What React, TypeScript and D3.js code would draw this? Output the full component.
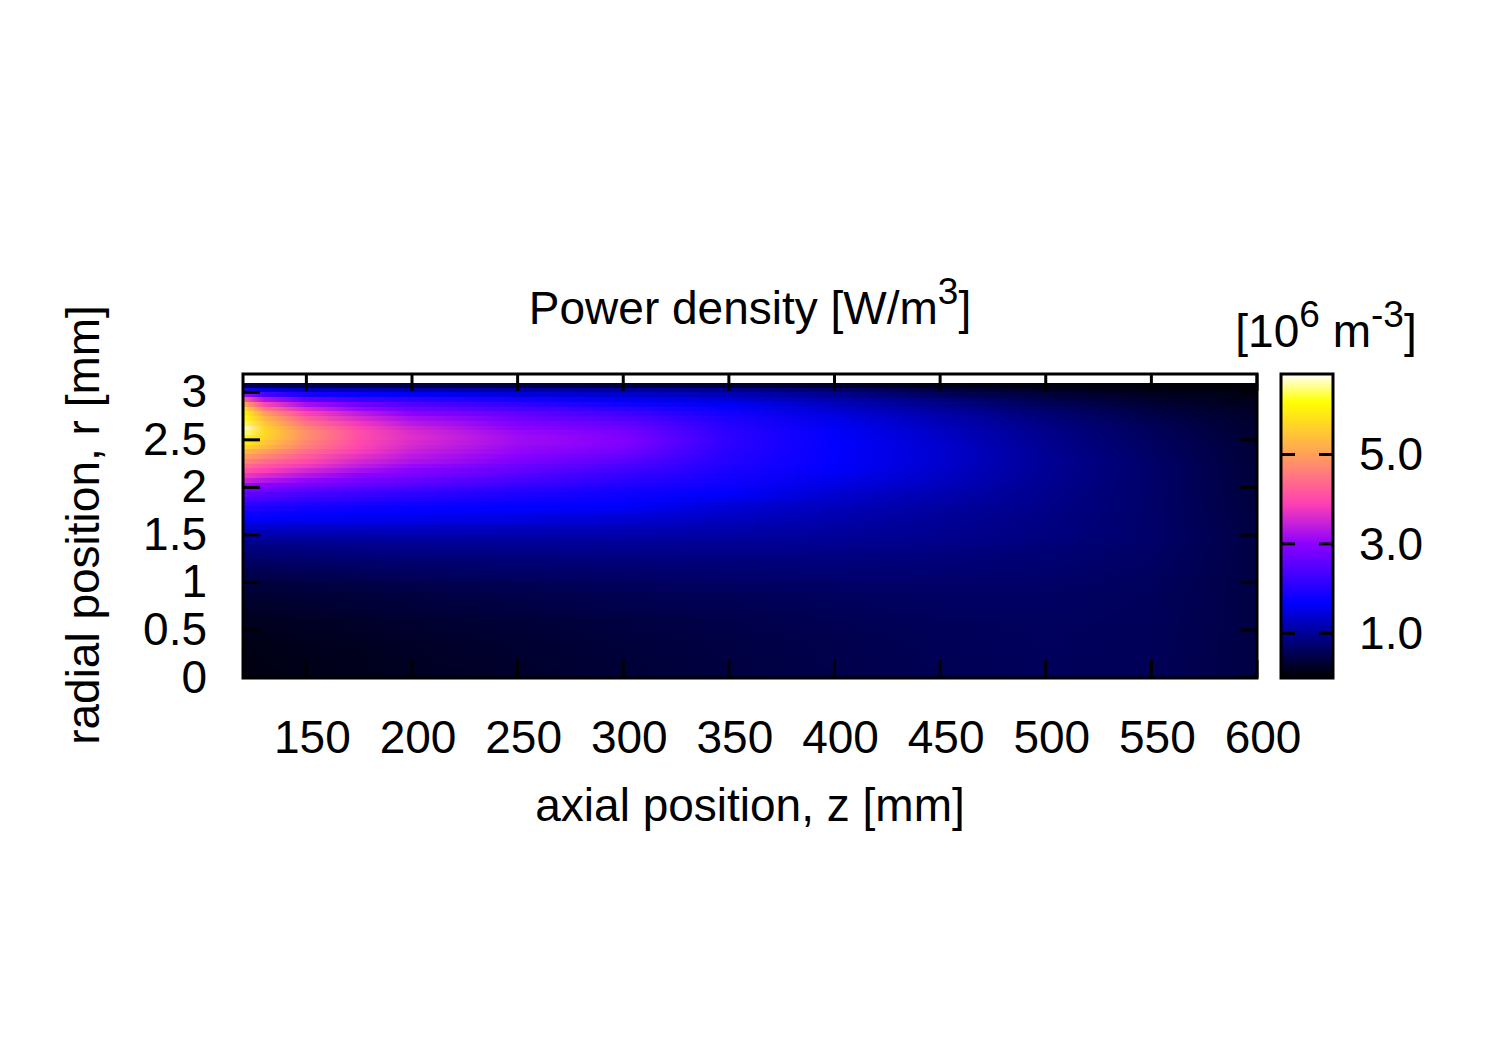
import React from 'react';
import * as d3 from 'd3';

// axial positions of the table columns [mm]
const zColumns = [120, 130, 150, 175, 200, 250, 300, 350, 400, 450, 500, 550, 600];
// lower edge of every table row, top row first [mm]; the last row ends at rTop
const rRows = [
  3.05, 3.0, 2.95, 2.9, 2.85, 2.8, 2.75, 2.7, 2.65, 2.6, 2.55, 2.5, 2.45, 2.4, 2.35, 2.3, 2.25, 2.2,
  2.15, 2.1, 2.05, 2.0, 1.95, 1.9, 1.85, 1.8, 1.75, 1.7, 1.65, 1.6, 1.55, 1.5, 1.45, 1.4, 1.35, 1.3,
  1.25, 1.2, 1.15, 1.1, 1.05, 1.0, 0.9, 0.8, 0.7, 0.6, 0.5, 0.4, 0.3, 0.2, 0.1, 0,
];
const rTop = 3.1;

// power density, one line per row of rRows
const density = [
  [0.55, 0.5, 0.5, 0.48, 0.47, 0.45, 0.42, 0.38, 0.3, 0.16, 0.1, 0.07, 0.04],
  [1.9, 1.5, 1.3, 1.2, 1.15, 1.1, 1.05, 0.95, 0.72, 0.42, 0.24, 0.14, 0.08],
  [3.2, 2.4, 1.9, 1.75, 1.65, 1.45, 1.35, 1.2, 0.95, 0.62, 0.38, 0.22, 0.12],
  [4.3, 3.3, 2.6, 2.25, 2.1, 1.85, 1.6, 1.42, 1.12, 0.8, 0.5, 0.29, 0.16],
  [5.2, 4.0, 3.2, 2.75, 2.45, 2.15, 1.85, 1.62, 1.27, 0.93, 0.6, 0.36, 0.2],
  [5.8, 4.6, 3.6, 3.1, 2.75, 2.4, 2.1, 1.75, 1.37, 1.03, 0.69, 0.42, 0.23],
  [6.1, 5.0, 3.95, 3.4, 3.0, 2.6, 2.3, 1.85, 1.46, 1.11, 0.76, 0.47, 0.26],
  [6.2, 5.3, 4.25, 3.6, 3.2, 2.75, 2.45, 1.93, 1.53, 1.17, 0.81, 0.51, 0.28],
  [6.4, 5.5, 4.5, 3.8, 3.35, 2.9, 2.6, 2.0, 1.59, 1.22, 0.85, 0.55, 0.3],
  [6.7, 5.65, 4.7, 3.95, 3.5, 3.0, 2.72, 2.05, 1.63, 1.26, 0.88, 0.58, 0.31],
  [6.5, 5.7, 4.8, 4.05, 3.6, 3.1, 2.82, 2.08, 1.66, 1.3, 0.91, 0.6, 0.32],
  [6.2, 5.65, 4.8, 4.05, 3.65, 3.15, 2.88, 2.1, 1.68, 1.33, 0.93, 0.62, 0.33],
  [6.0, 5.5, 4.7, 4.0, 3.6, 3.15, 2.9, 2.1, 1.7, 1.35, 0.95, 0.64, 0.34],
  [5.7, 5.3, 4.6, 3.95, 3.55, 3.1, 2.85, 2.08, 1.71, 1.36, 0.96, 0.65, 0.35],
  [5.3, 5.0, 4.4, 3.85, 3.45, 3.05, 2.75, 2.05, 1.71, 1.37, 0.97, 0.66, 0.36],
  [5.0, 4.7, 4.2, 3.7, 3.35, 2.95, 2.62, 2.02, 1.7, 1.37, 0.98, 0.67, 0.36],
  [4.7, 4.4, 4.0, 3.55, 3.25, 2.85, 2.5, 2.0, 1.7, 1.37, 0.98, 0.68, 0.37],
  [4.4, 4.15, 3.8, 3.4, 3.1, 2.72, 2.4, 1.96, 1.68, 1.36, 0.98, 0.69, 0.37],
  [4.1, 3.9, 3.55, 3.2, 2.95, 2.6, 2.28, 1.92, 1.65, 1.34, 0.98, 0.69, 0.38],
  [3.8, 3.6, 3.3, 3.0, 2.8, 2.48, 2.17, 1.88, 1.6, 1.32, 0.97, 0.69, 0.38],
  [3.5, 3.3, 3.05, 2.8, 2.65, 2.35, 2.07, 1.83, 1.54, 1.28, 0.96, 0.69, 0.38],
  [3.15, 3.0, 2.8, 2.6, 2.45, 2.2, 1.97, 1.77, 1.48, 1.24, 0.95, 0.69, 0.39],
  [2.85, 2.75, 2.55, 2.4, 2.28, 2.05, 1.88, 1.72, 1.42, 1.2, 0.94, 0.69, 0.39],
  [2.6, 2.5, 2.35, 2.22, 2.1, 1.95, 1.8, 1.66, 1.37, 1.16, 0.93, 0.69, 0.39],
  [2.35, 2.28, 2.15, 2.05, 1.95, 1.83, 1.73, 1.55, 1.32, 1.12, 0.92, 0.69, 0.4],
  [2.15, 2.08, 1.98, 1.9, 1.82, 1.74, 1.68, 1.47, 1.27, 1.09, 0.91, 0.69, 0.4],
  [1.98, 1.92, 1.84, 1.77, 1.72, 1.68, 1.6, 1.4, 1.22, 1.05, 0.9, 0.69, 0.41],
  [1.82, 1.78, 1.72, 1.68, 1.66, 1.58, 1.5, 1.33, 1.17, 1.02, 0.88, 0.69, 0.41],
  [1.68, 1.65, 1.62, 1.58, 1.55, 1.48, 1.4, 1.27, 1.14, 1.0, 0.87, 0.69, 0.42],
  [1.52, 1.5, 1.47, 1.45, 1.43, 1.38, 1.32, 1.21, 1.1, 0.98, 0.86, 0.69, 0.42],
  [1.36, 1.35, 1.33, 1.32, 1.31, 1.28, 1.23, 1.15, 1.06, 0.97, 0.86, 0.7, 0.43],
  [1.2, 1.2, 1.2, 1.2, 1.2, 1.18, 1.15, 1.09, 1.03, 0.95, 0.85, 0.7, 0.43],
  [1.05, 1.05, 1.06, 1.07, 1.08, 1.08, 1.07, 1.04, 1.0, 0.93, 0.84, 0.7, 0.44],
  [0.95, 0.96, 0.97, 0.98, 1.0, 1.01, 1.01, 0.99, 0.97, 0.91, 0.82, 0.69, 0.44],
  [0.86, 0.87, 0.89, 0.91, 0.93, 0.95, 0.96, 0.95, 0.93, 0.88, 0.8, 0.68, 0.44],
  [0.78, 0.8, 0.82, 0.84, 0.86, 0.89, 0.9, 0.9, 0.89, 0.85, 0.78, 0.67, 0.44],
  [0.71, 0.73, 0.75, 0.77, 0.8, 0.83, 0.85, 0.86, 0.85, 0.82, 0.76, 0.66, 0.44],
  [0.65, 0.66, 0.69, 0.71, 0.74, 0.78, 0.8, 0.82, 0.82, 0.8, 0.75, 0.65, 0.44],
  [0.59, 0.6, 0.63, 0.66, 0.69, 0.73, 0.76, 0.78, 0.79, 0.77, 0.73, 0.65, 0.44],
  [0.54, 0.55, 0.58, 0.61, 0.64, 0.69, 0.72, 0.75, 0.76, 0.75, 0.72, 0.64, 0.44],
  [0.49, 0.5, 0.53, 0.56, 0.6, 0.65, 0.68, 0.71, 0.73, 0.73, 0.7, 0.63, 0.44],
  [0.45, 0.46, 0.49, 0.52, 0.56, 0.61, 0.65, 0.68, 0.71, 0.71, 0.69, 0.62, 0.44],
  [0.38, 0.39, 0.42, 0.45, 0.49, 0.54, 0.59, 0.63, 0.66, 0.68, 0.67, 0.61, 0.44],
  [0.32, 0.33, 0.36, 0.39, 0.43, 0.49, 0.54, 0.58, 0.62, 0.65, 0.65, 0.6, 0.44],
  [0.27, 0.28, 0.31, 0.34, 0.38, 0.44, 0.5, 0.54, 0.59, 0.63, 0.64, 0.6, 0.44],
  [0.23, 0.24, 0.27, 0.3, 0.34, 0.4, 0.46, 0.51, 0.56, 0.61, 0.63, 0.59, 0.44],
  [0.2, 0.21, 0.24, 0.27, 0.31, 0.37, 0.43, 0.48, 0.54, 0.59, 0.62, 0.59, 0.44],
  [0.17, 0.18, 0.21, 0.24, 0.28, 0.34, 0.41, 0.46, 0.52, 0.58, 0.61, 0.58, 0.44],
  [0.15, 0.16, 0.19, 0.22, 0.26, 0.32, 0.39, 0.45, 0.51, 0.57, 0.61, 0.58, 0.44],
  [0.13, 0.15, 0.18, 0.2, 0.25, 0.31, 0.38, 0.44, 0.5, 0.56, 0.6, 0.58, 0.44],
  [0.12, 0.14, 0.17, 0.19, 0.24, 0.3, 0.37, 0.43, 0.5, 0.56, 0.6, 0.57, 0.44],
  [0.11, 0.13, 0.16, 0.18, 0.23, 0.29, 0.36, 0.43, 0.49, 0.55, 0.6, 0.57, 0.44],
];

const zTicks = [150, 200, 250, 300, 350, 400, 450, 500, 550, 600];
const rTicks = [0, 0.5, 1, 1.5, 2, 2.5, 3];
const cbTicks = [1, 3, 5];

// palette of the colour box
const paletteValues = [0, 1.68, 3.0, 3.9, 5.0, 6.17, 6.8];
const paletteColors = ['#000000', '#0000ff', '#8c00ff', '#ff40b4', '#ffa05a', '#ffff00', '#ffffff'];

const FONT = '"Liberation Sans", Arial, sans-serif';
const FS = 46;
const SUP = 37;

const App = () => {
  const left = 243;
  const right = 1257;
  const top = 374;
  const bottom = 678;
  const cbLeft = 1281;
  const cbRight = 1333;

  const x = d3.scaleLinear().domain([120, 600]).range([left, right]);
  const y = d3.scaleLinear().domain([0, 3]).range([677.5, 392.3]);
  const cb = d3.scaleLinear().domain([0, 6.8]).range([bottom, top]);
  const color = d3.scaleLinear<string>().domain(paletteValues).range(paletteColors);

  const rowTop = (i: number) => y(i === 0 ? rTop : rRows[i - 1]);

  return (
    <svg
      width={1500}
      height={1050}
      style={{ position: 'absolute', left: 0, top: 0, background: '#fff' }}
      fontFamily={FONT}
      fontSize={FS}
      fill="#000"
    >
      <defs>
        {density.map((row, i) => (
          <linearGradient
            key={i}
            id={`row-${i}`}
            gradientUnits="userSpaceOnUse"
            x1={left}
            x2={right}
            y1={0}
            y2={0}
          >
            {row.map((v, j) => (
              <stop key={j} offset={(x(zColumns[j]) - left) / (right - left)} stopColor={color(v)} />
            ))}
          </linearGradient>
        ))}
        <linearGradient id="palette" x1={0} x2={0} y1={1} y2={0}>
          {paletteValues.map((v, i) => (
            <stop key={i} offset={v / 6.8} stopColor={paletteColors[i]} />
          ))}
        </linearGradient>
      </defs>

      {/* heat map, one gradient filled band per table row */}
      {rRows.map((r, i) => (
        <rect
          key={i}
          x={left}
          y={rowTop(i)}
          width={right - left}
          height={y(r) - rowTop(i) + 0.5}
          fill={`url(#row-${i})`}
          shapeRendering="crispEdges"
        />
      ))}

      {/* ticks */}
      <g stroke="#000" strokeWidth={3} fill="none">
        {zTicks.map((t) => (
          <g key={t}>
            <line x1={x(t)} x2={x(t)} y1={top} y2={top + 17} />
            <line x1={x(t)} x2={x(t)} y1={bottom} y2={bottom - 18} />
          </g>
        ))}
        {rTicks.map((t) => (
          <g key={t}>
            <line x1={left} x2={left + 17} y1={y(t)} y2={y(t)} />
            <line x1={right} x2={right - 17} y1={y(t)} y2={y(t)} />
          </g>
        ))}
        <rect x={left} y={top} width={right - left} height={bottom - top} />
      </g>

      {zTicks.map((t) => (
        <text key={t} x={x(t) + 6} y={753} textAnchor="middle">
          {t}
        </text>
      ))}
      {rTicks.map((t) => (
        <text key={t} x={207} y={y(t) + 15} textAnchor="end">
          {t}
        </text>
      ))}

      {/* colour box */}
      <rect x={cbLeft} y={top} width={cbRight - cbLeft} height={bottom - top} fill="url(#palette)" />
      <g stroke="#000" strokeWidth={3} fill="none">
        {cbTicks.map((t) => (
          <g key={t}>
            <line x1={cbLeft} x2={cbLeft + 14} y1={cb(t)} y2={cb(t)} />
            <line x1={cbRight} x2={cbRight - 14} y1={cb(t)} y2={cb(t)} />
          </g>
        ))}
        <rect x={cbLeft} y={top} width={cbRight - cbLeft} height={bottom - top} />
      </g>
      {cbTicks.map((t) => (
        <text key={t} x={1423} y={cb(t) + 16} textAnchor="end">
          {d3.format('.1f')(t)}
        </text>
      ))}

      {/* titles */}
      <text x={750} y={324} textAnchor="middle">
        Power density [W/m
        <tspan dy={-20} fontSize={SUP}>
          3
        </tspan>
        <tspan dy={20}>]</tspan>
      </text>
      <text x={1326} y={347} textAnchor="middle">
        [10
        <tspan dy={-20} fontSize={SUP}>
          6
        </tspan>
        <tspan dy={20}> m</tspan>
        <tspan dy={-20} fontSize={SUP}>
          -3
        </tspan>
        <tspan dy={20}>]</tspan>
      </text>
      <text x={750} y={821} textAnchor="middle">
        axial position, z [mm]
      </text>
      <text transform="translate(99,525) rotate(-90)" textAnchor="middle">
        radial position, r [mm]
      </text>
    </svg>
  );
};

export default App;
